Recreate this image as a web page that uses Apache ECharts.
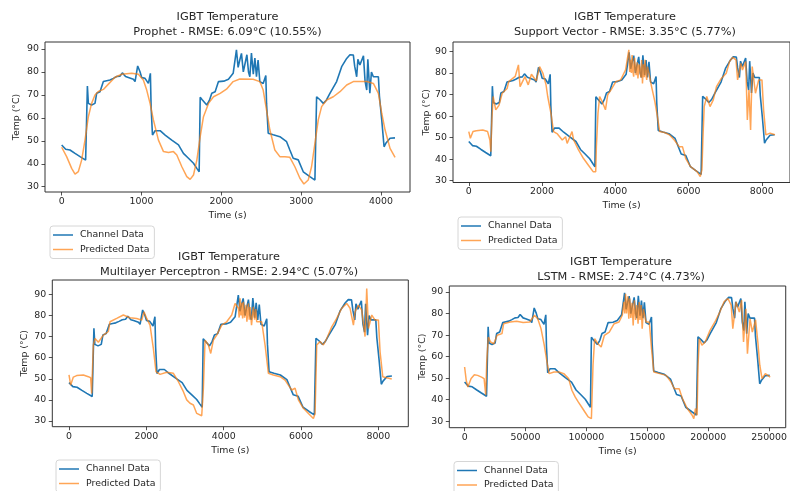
<!DOCTYPE html>
<html>
<head>
<meta charset="utf-8">
<script src="https://cdn.jsdelivr.net/npm/echarts@6/dist/echarts.min.js"></script>
<style>
html,body{margin:0;padding:0;background:#fff;}
#chart{width:790px;height:491px;}
</style>
</head>
<body>
<div id="chart"></div>
<script>
// ---------- DATA ----------
const seriesNames = ['Channel Data', 'Predicted Data'];
const titleLine1 = 'IGBT Temperature';
const modelTitles = [
  'Prophet - RMSE: 6.09°C (10.55%)',
  'Support Vector - RMSE: 3.35°C (5.77%)',
  'Multilayer Perceptron - RMSE: 2.94°C (5.07%)',
  'LSTM - RMSE: 2.74°C (4.73%)'
];
const xAxisTitle = 'Time (s)';
const yAxisTitle = 'Temp (°C)';

const yTicks = [30, 40, 50, 60, 70, 80, 90];
const xTicksProphet = [0, 1000, 2000, 3000, 4000];
const xTicksSV = [0, 2000, 4000, 6000, 8000];
const xTicksMLP = [0, 2000, 4000, 6000, 8000];
const xTicksLSTM = [0, 50000, 100000, 150000, 200000, 250000];

// measured channel temperature (shared by all four panels)
const channelTemp = [
  48.2, 47.6, 46.3, 46.0, 44.5, 43.1, 41.6, 41.2, 73.9, 66.3,
  67.0, 65.6, 66.3, 70.7, 71.4, 71.0, 75.8, 76.2, 76.5, 77.2,
  78.0, 78.2, 79.6, 80.4, 78.0, 77.6, 76.8, 75.8, 82.6, 80.1,
  77.6, 77.2, 75.0, 75.5, 79.4, 64.9, 52.5, 54.4, 54.4, 52.5,
  50.3, 48.2, 44.5, 42.4, 40.2, 38.0, 36.5, 36.3, 69.0, 67.9,
  65.6, 67.6, 70.7, 71.4, 75.8, 76.0, 76.8, 79.4, 89.6, 82.0,
  85.2, 88.1, 80.0, 79.4, 87.5, 80.0, 77.9, 88.2, 79.0, 86.0,
  77.9, 85.2, 75.8, 75.0, 78.4, 66.3, 53.3, 52.6, 51.8, 49.6,
  46.0, 42.4, 41.7, 36.5, 34.4, 32.9, 32.5, 69.2, 67.9, 66.3,
  67.7, 70.7, 75.8, 82.3, 85.9, 87.5, 87.4, 82.5, 77.9, 85.5,
  83.0, 83.5, 87.0, 76.0, 72.1, 85.5, 70.7, 80.0, 77.9, 77.9,
  69.5, 59.1, 47.4, 48.9, 51.1, 51.3
];
const channelTimeProphet = [
  0, 25, 50, 104, 167, 230, 300, 318, 322, 334,
  355, 375, 417, 438, 480, 505, 522, 564, 605, 647,
  689, 731, 760, 781, 800, 835, 898, 919, 952, 981,
  1002, 1044, 1086, 1100, 1111, 1120, 1137, 1170, 1233, 1296,
  1379, 1463, 1525, 1588, 1651, 1693, 1722, 1730, 1735, 1760,
  1817, 1850, 1880, 1922, 1964, 2030, 2089, 2148, 2189, 2210,
  2231, 2252, 2275, 2294, 2320, 2340, 2357, 2377, 2400, 2420,
  2440, 2460, 2482, 2524, 2557, 2566, 2587, 2650, 2733, 2817,
  2858, 2900, 2963, 3026, 3109, 3172, 3188, 3193, 3235, 3277,
  3315, 3360, 3444, 3507, 3570, 3611, 3653, 3670, 3695, 3710,
  3735, 3758, 3780, 3800, 3821, 3835, 3860, 3880, 3904, 3967,
  3980, 4009, 4038, 4060, 4113, 4175
];
const channelTimeSV = [
  0, 50, 100, 208, 334, 460, 600, 636, 644, 668,
  710, 750, 834, 876, 960, 1010, 1044, 1128, 1210, 1294,
  1378, 1462, 1520, 1562, 1600, 1670, 1796, 1838, 1904, 1962,
  2004, 2088, 2172, 2200, 2222, 2240, 2274, 2340, 2466, 2592,
  2758, 2926, 3050, 3176, 3302, 3386, 3444, 3460, 3470, 3520,
  3634, 3700, 3760, 3844, 3928, 4060, 4178, 4296, 4378, 4420,
  4462, 4504, 4550, 4588, 4640, 4680, 4714, 4754, 4800, 4840,
  4880, 4920, 4964, 5048, 5114, 5132, 5174, 5300, 5466, 5634,
  5716, 5800, 5926, 6052, 6218, 6344, 6376, 6386, 6470, 6554,
  6630, 6720, 6888, 7014, 7140, 7222, 7306, 7340, 7390, 7420,
  7470, 7516, 7560, 7600, 7642, 7670, 7720, 7760, 7808, 7934,
  7960, 8018, 8076, 8120, 8226, 8350
];
const channelTimeLSTM = [
  0, 1500, 3000, 6240, 10020, 13800, 18000, 19080, 19320, 20040,
  21300, 22500, 25020, 26280, 28800, 30300, 31320, 33840, 36300, 38820,
  41340, 43860, 45600, 46860, 48000, 50100, 53880, 55140, 57120, 58860,
  60120, 62640, 65160, 66000, 66660, 67200, 68220, 70200, 73980, 77760,
  82740, 87780, 91500, 95280, 99060, 101580, 103320, 103800, 104100, 105600,
  109020, 111000, 112800, 115320, 117840, 121800, 125340, 128880, 131340, 132600,
  133860, 135120, 136500, 137640, 139200, 140400, 141420, 142620, 144000, 145200,
  146400, 147600, 148920, 151440, 153420, 153960, 155220, 159000, 163980, 169020,
  171480, 174000, 177780, 181560, 186540, 190320, 191280, 191580, 194100, 196620,
  198900, 201600, 206640, 210420, 214200, 216660, 219180, 220200, 221700, 222600,
  224100, 225480, 226800, 228000, 229260, 230100, 231600, 232800, 234240, 238020,
  238800, 240540, 242280, 243600, 246780, 250500
];

// predictions [time, temp]
const prophetPredicted = [
  [0,47.2],[62,43.1],[125,38.0],[167,35.5],[209,36.6],[250,41.6],[292,50.3],[334,60.5],[375,66.3],[417,70.0],
  [459,71.5],[522,72.4],[585,74.7],[668,77.7],[752,79.0],[877,79.4],[961,79.0],[1023,76.5],[1065,72.1],[1107,66.3],
  [1149,59.1],[1212,50.3],[1275,45.3],[1338,44.9],[1400,45.3],[1442,43.8],[1505,38.7],[1567,34.4],[1609,33.2],[1651,35.1],
  [1693,41.6],[1735,51.8],[1776,60.5],[1839,66.3],[1902,69.2],[1985,70.7],[2064,72.5],[2148,75.8],[2231,76.9],[2398,76.8],
  [2482,75.8],[2524,72.1],[2566,63.4],[2608,54.7],[2670,46.0],[2733,43.1],[2796,43.1],[2858,42.8],[2921,38.7],[2984,33.7],
  [3034,31.2],[3088,32.9],[3130,38.7],[3172,48.9],[3214,59.1],[3256,64.9],[3319,67.8],[3402,69.2],[3486,71.4],[3570,74.3],
  [3653,75.8],[3821,75.8],[3904,75.0],[3967,70.7],[4009,62.0],[4051,54.7],[4113,46.7],[4176,42.8]
];
const svPredicted = [
  [0,52.8],[43,49.7],[115,52.8],[204,53.2],[381,53.5],[514,52.8],[576,48.9],[603,43.5],[630,58.2],[665,69.1],
  [736,62.9],[824,65.0],[913,70.6],[1046,72.8],[1090,76.0],[1268,78.4],[1356,83.8],[1400,73.7],[1534,78.3],[1623,74.5],
  [1711,79.4],[1844,76.3],[1933,83.0],[2022,80.0],[2110,74.5],[2155,69.1],[2244,61.3],[2314,52.8],[2420,51.7],[2553,48.9],
  [2642,50.4],[2686,47.3],[2819,52.8],[2863,48.9],[2996,44.3],[3129,40.4],[3262,37.3],[3395,34.2],[3466,34.2],[3484,45.8],
  [3528,61.3],[3573,69.1],[3661,66.0],[3732,62.9],[3794,69.9],[3883,72.2],[4016,76.0],[4149,76.8],[4282,81.5],[4370,90.8],
  [4395,80.5],[4415,86.1],[4440,80.0],[4459,88.4],[4480,81.0],[4503,78.3],[4525,87.0],[4548,86.1],[4570,79.0],[4600,85.0],
  [4619,77.5],[4650,84.0],[4681,84.5],[4700,78.0],[4720,86.0],[4743,75.2],[4770,84.0],[4790,78.0],[4814,86.1],[4840,79.0],
  [4858,76.8],[4880,83.0],[4920,79.9],[4991,73.7],[5080,66.8],[5151,59.8],[5213,52.8],[5346,52.4],[5479,51.3],[5612,48.9],
  [5745,45.8],[5834,45.8],[5922,40.4],[6055,36.5],[6233,34.2],[6321,31.9],[6366,35.0],[6392,48.9],[6428,64.4],[6498,69.1],
  [6587,64.4],[6676,67.5],[6764,73.7],[6897,77.5],[7030,79.9],[7119,85.3],[7207,87.3],[7296,86.1],[7340,76.8],[7429,84.5],
  [7473,81.4],[7562,85.3],[7606,58.2],[7651,72.2],[7695,53.6],[7739,83.0],[7828,70.6],[7916,76.8],[8005,76.8],[8050,62.9],
  [8112,51.3],[8227,52.1],[8360,51.3]
];
const mlpPredicted = [
  [0,51.8],[43,47.0],[112,50.8],[198,51.5],[371,51.8],[500,51.0],[560,50.5],[586,43.1],[629,66.0],[672,69.1],
  [759,67.3],[888,70.7],[1017,72.4],[1060,77.0],[1233,78.6],[1405,80.2],[1578,78.9],[1750,78.6],[1880,77.8],[1940,81.8],
  [2009,78.6],[2095,75.4],[2181,64.4],[2250,53.4],[2354,52.1],[2527,53.1],[2699,52.6],[2829,48.6],[2958,43.9],[3044,40.0],
  [3130,38.4],[3217,37.6],[3303,33.6],[3432,32.5],[3475,45.5],[3518,68.3],[3604,66.0],[3665,62.0],[3733,68.3],[3820,70.7],
  [3949,75.4],[4078,77.0],[4208,80.2],[4294,85.7],[4380,83.4],[4400,79.0],[4423,88.1],[4445,80.0],[4466,86.0],[4490,78.6],
  [4510,86.5],[4540,79.0],[4578,85.0],[4600,77.0],[4639,85.7],[4660,78.0],[4682,84.0],[4720,75.4],[4768,84.1],[4800,78.0],
  [4830,83.0],[4854,77.0],[4984,77.0],[5070,66.0],[5156,52.6],[5285,51.8],[5458,51.0],[5587,49.4],[5673,47.0],[5760,44.7],
  [5846,45.5],[5932,40.0],[6061,36.0],[6191,33.6],[6320,31.2],[6363,33.6],[6406,66.0],[6492,67.6],[6578,66.0],[6665,69.1],
  [6794,74.6],[6923,78.6],[7053,83.4],[7182,85.7],[7268,83.4],[7355,75.4],[7398,81.8],[7484,84.9],[7570,82.5],[7656,70.0],
  [7699,92.8],[7743,73.8],[7829,80.2],[7915,77.8],[8001,77.8],[8044,62.8],[8113,51.0],[8217,50.5],[8346,49.9]
];
const lstmPredicted = [
  [0,55.2],[1334,49.0],[2670,45.9],[5340,49.8],[8007,51.6],[10675,51.3],[13878,50.5],[16013,49.8],[17347,42.1],[18147,57.5],
  [19482,69.1],[21350,66.8],[24020,66.0],[26690,69.9],[30690,70.7],[32025,75.3],[37363,76.1],[42700,76.4],[48040,75.8],[53378,76.1],
  [57380,79.2],[60050,77.6],[62720,73.0],[65390,65.3],[68060,56.0],[69393,52.1],[73400,52.9],[77400,52.9],[81400,52.1],[85400,49.8],
  [88070,44.4],[90740,41.3],[93410,38.9],[96080,36.6],[98750,34.3],[101420,32.0],[104090,31.2],[105424,56.0],[106760,68.3],[109430,66.0],
  [112100,64.5],[114770,69.9],[118770,71.4],[122770,75.3],[126780,76.1],[129450,79.2],[130780,85.4],[131500,80.0],[132120,89.2],[133000,80.0],
  [133990,88.0],[134800,77.6],[135590,87.0],[136500,78.0],[137460,85.0],[138400,74.5],[139330,86.2],[140400,77.0],[141460,84.0],[142400,75.3],
  [143330,85.4],[144000,77.0],[144930,84.0],[145800,73.0],[146800,82.2],[148930,76.1],[151600,76.1],[153470,63.7],[155340,52.9],[160150,52.1],
  [165490,51.3],[169490,48.2],[172160,45.1],[176160,45.1],[178830,40.5],[182840,35.9],[186840,32.8],[188170,31.2],[189510,35.9],[190840,32.8],
  [191640,56.0],[192710,68.3],[194840,65.3],[197510,66.8],[201510,72.2],[205520,76.1],[209520,80.7],[212990,85.4],[216200,87.0],[218870,83.9],
  [220200,73.0],[222870,85.4],[225540,80.7],[227410,86.2],[229010,66.8],[230880,82.2],[232210,61.4],[234350,77.6],[236220,71.4],[238890,77.1],
  [240750,66.8],[242350,56.0],[244220,49.8],[246890,52.1],[250900,50.5]
];

// ---------- CHART ----------
const FONT = 'DejaVu Sans';
const TXT = '#262626';
const BLUE = '#1f77b4';
const ORANGE = 'rgba(255,127,14,0.7)';

function zip(times, vals) { return times.map((t, i) => [t, vals[i]]); }

const panels = [
  {grid:{left:45, top:42, width:365, height:150}, xr:[-209, 4363], yr:[27.7, 93.05], xt:xTicksProphet,
   channel:zip(channelTimeProphet, channelTemp), pred:prophetPredicted,
   titleX:227.5, titleTop:9.5, xGap:19, yGap:24, legend:{left:50, top:226}},
  {grid:{left:453, top:42, width:346, height:140.5}, xr:[-431, 8771], yr:[29.16, 94.4], xt:xTicksSV,
   channel:zip(channelTimeSV, channelTemp), pred:svPredicted,
   titleX:625, titleTop:9.8, xGap:19, yGap:22, legend:{left:458, top:217}},
  {grid:{left:52.3, top:280, width:356, height:146.7}, xr:[-432, 8774], yr:[27.3, 96.8], xt:xTicksMLP,
   channel:zip(channelTimeSV, channelTemp), pred:mlpPredicted,
   titleX:229, titleTop:249.2, xGap:19, yGap:23, legend:{left:56, top:460}},
  {grid:{left:449.3, top:286, width:345, height:141.7}, xr:[-12570, 263650], yr:[27.0, 92.8], xt:xTicksLSTM,
   channel:zip(channelTimeLSTM, channelTemp), pred:lstmPredicted,
   titleX:621, titleTop:254.2, xGap:19, yGap:22.5, legend:{left:454, top:461.5}}
];

const option = {
  animation: false,
  backgroundColor: '#fff',
  textStyle: {fontFamily: FONT},
  title: [], grid: [], xAxis: [], yAxis: [], legend: [], series: []
};

panels.forEach((p, i) => {
  option.title.push({
    text: titleLine1 + '\n' + modelTitles[i],
    left: p.titleX, top: p.titleTop, textAlign: 'center', padding: 0,
    textStyle: {fontSize: 11.3, fontWeight: 'normal', color: TXT, lineHeight: 15, fontFamily: FONT}
  });
  option.grid.push(Object.assign({show: true, borderColor: '#333', borderWidth: 1, backgroundColor: 'transparent', containLabel: false}, p.grid));
  const tickLine = {color: TXT, width: 0.8};
  option.xAxis.push({
    type: 'value', gridIndex: i, min: p.xr[0], max: p.xr[1],
    name: xAxisTitle, nameLocation: 'middle', nameGap: p.xGap,
    nameTextStyle: {fontSize: 9.4, color: TXT, fontFamily: FONT},
    axisLine: {show: false, onZero: false},
    splitLine: {show: false},
    axisTick: {show: true, length: 3.5, lineStyle: tickLine, customValues: p.xt},
    axisLabel: {customValues: p.xt, formatter: v => String(v), fontSize: 9.4, color: TXT, margin: 5, fontFamily: FONT}
  });
  option.yAxis.push({
    type: 'value', gridIndex: i, min: p.yr[0], max: p.yr[1],
    name: yAxisTitle, nameLocation: 'middle', nameGap: p.yGap,
    nameTextStyle: {fontSize: 9.4, color: TXT, fontFamily: FONT},
    axisLine: {show: false, onZero: false},
    splitLine: {show: false},
    axisTick: {show: true, length: 3.5, lineStyle: tickLine, customValues: yTicks},
    axisLabel: {customValues: yTicks, formatter: v => String(v), fontSize: 9.4, color: TXT, margin: 6, fontFamily: FONT}
  });
  option.legend.push({
    type: 'plain', orient: 'vertical', left: p.legend.left, top: p.legend.top,
    width: 120, height: 80,
    data: seriesNames, icon: 'rect', itemWidth: 20, itemHeight: 1.5, itemGap: 2.5,
    padding: [3, 5, 3, 3], backgroundColor: 'rgba(255,255,255,0.85)',
    borderColor: '#d6d6d6', borderWidth: 1, borderRadius: 3, selectedMode: false,
    textStyle: {fontSize: 9.4, color: TXT, fontFamily: FONT, lineHeight: 12, padding: [0, 0, 0, 2]}
  });
  option.series.push({
    type: 'line', name: seriesNames[0], xAxisIndex: i, yAxisIndex: i, data: p.channel,
    symbol: 'none', showSymbol: false, color: BLUE,
    lineStyle: {width: 1.6, color: BLUE}, itemStyle: {color: BLUE}, z: 2, silent: true
  });
  option.series.push({
    type: 'line', name: seriesNames[1], xAxisIndex: i, yAxisIndex: i, data: p.pred,
    symbol: 'none', showSymbol: false, color: ORANGE,
    lineStyle: {width: 1.5, color: ORANGE}, itemStyle: {color: ORANGE}, z: 3, silent: true
  });
});

const chart = echarts.init(document.getElementById('chart'), null, {renderer: 'canvas'});
chart.setOption(option);
</script>
</body>
</html>
